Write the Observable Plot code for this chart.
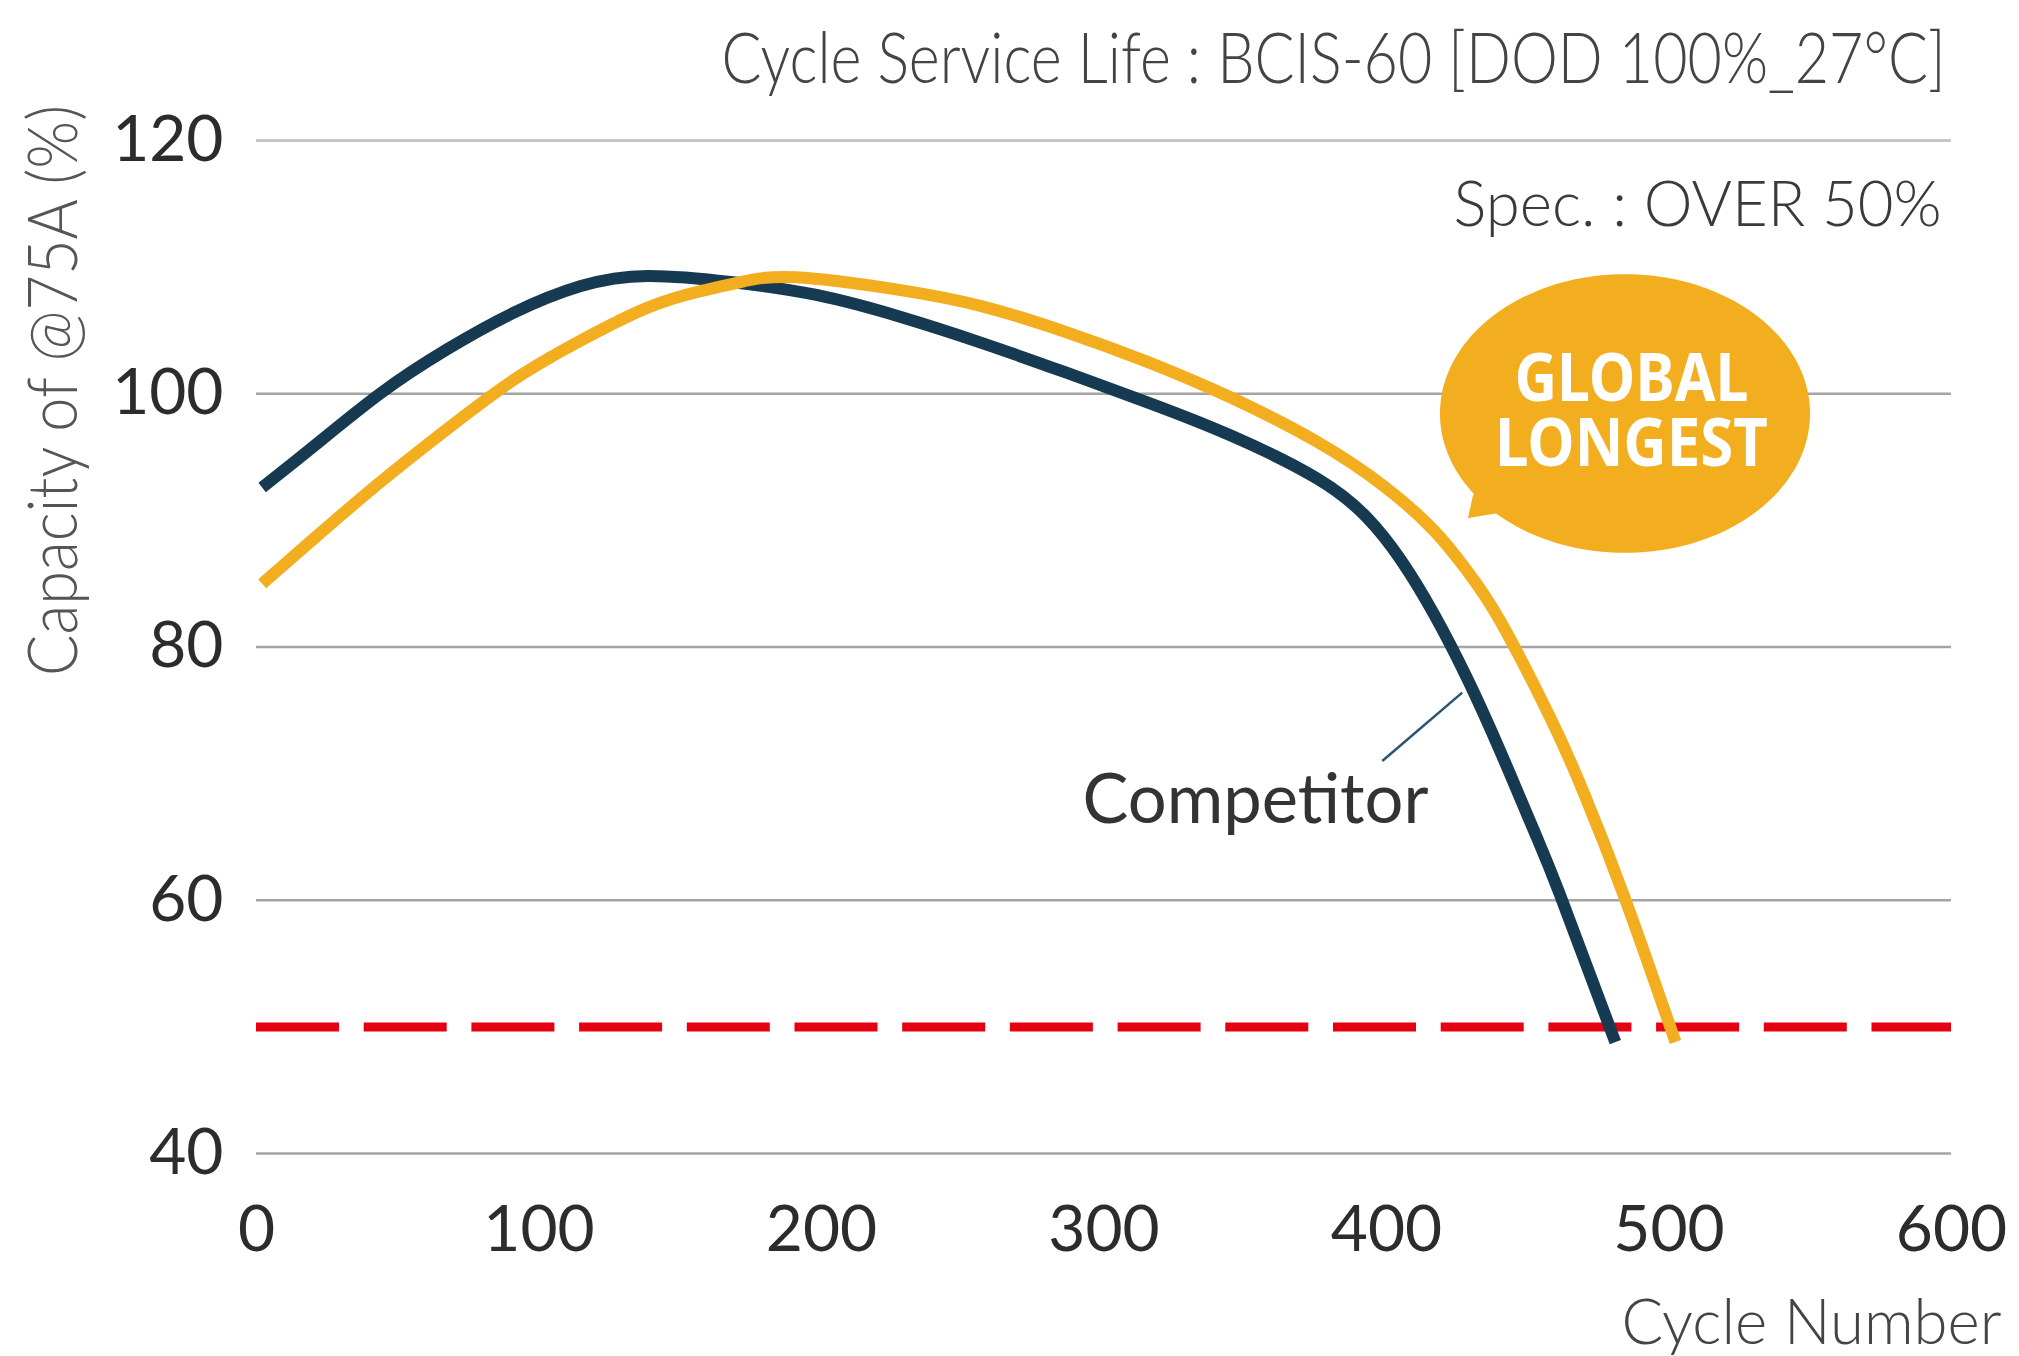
<!DOCTYPE html>
<html>
<head>
<meta charset="utf-8">
<script src="https://cdn.jsdelivr.net/npm/d3@7"></script>
<script src="https://cdn.jsdelivr.net/npm/@observablehq/plot@0.6"></script>
<style>
  html, body { margin: 0; padding: 0; background: #ffffff; }
  #chart svg { display: block; }
</style>
</head>
<body>
<div id="chart"></div>
<script>
// ---- data ----
const xTicks = [0, 100, 200, 300, 400, 500, 600];
const yTicks = [40, 60, 80, 100, 120];
const specLimit = 50;

const competitorCycles = [2, 20, 43.7, 67.4, 91.1, 114.8, 138.5, 168.8, 198.2, 227.5, 256.9, 286.2, 315.6, 344.9, 375.5, 393.2, 405, 416.8, 428.6, 440.4, 452.2, 461.3, 481];
const competitorCapacity = [92.6, 95.8, 100.0, 103.5, 106.4, 108.5, 109.3, 108.8, 107.8, 106.1, 104.0, 101.7, 99.3, 96.7, 93.3, 90.2, 86.9, 82.6, 77.5, 71.7, 65.5, 60.5, 48.8];

const ourCycles = [2, 20, 43.7, 67.4, 91.1, 114.8, 138.5, 157.2, 171, 190.8, 227.5, 256.9, 286.2, 315.6, 344.9, 375.5, 399.1, 416.8, 428.6, 440.4, 458, 469.8, 484.3, 502.3];
const ourCapacity = [85.0, 88.5, 93.0, 97.2, 101.1, 104.2, 106.8, 108.1, 108.8, 109.2, 108.2, 106.9, 104.9, 102.5, 99.7, 96.2, 92.7, 89.2, 86.0, 82.0, 74.4, 68.5, 60.2, 48.8];

const titleText = "Cycle Service Life : BCIS-60 [DOD 100%_27°C]";
const specText = "Spec. : OVER 50%";
const yLabelText = "Capacity of @75A (%)";
const xLabelText = "Cycle Number";
const competitorLabel = "Competitor";
const bubbleLines = ["GLOBAL", "LONGEST"];

// annotation anchors (data units)
const competitorLabelPos = {x: 292.4, y: 66.1};
const leader = {x1: 398.5, y1: 71.0, x2: 426.8, y2: 76.4};
const bubble = {cx: 484.6, cy: 98.4, rx: 65.5, ry: 11.0};
const bubbleTail = [
  {x: 429.0, y1: 90.13, y2: 90.13},
  {x: 430.8, y1: 90.2, y2: 91.95},
  {x: 439.3, y1: 90.53, y2: 93.5}
];
const bubbleTextPos = {x: 486.7, y: 103.07};

// ---- build tables ----
const competitor = competitorCycles.map((c, i) => ({cycle: c, cap: competitorCapacity[i]}));
const ours = ourCycles.map((c, i) => ({cycle: c, cap: ourCapacity[i]}));
const ellipse = d3.range(0, 181, 2).map(a => {
  const t = a * Math.PI / 180;
  return {
    x: bubble.cx + bubble.rx * Math.cos(t),
    y1: bubble.cy - bubble.ry * Math.sin(t),
    y2: bubble.cy + bubble.ry * Math.sin(t)
  };
});

const NAVY = "#163a51";
const GOLD = "#f2ae1e";
const RED = "#e60012";

const plot = Plot.plot({
  width: 2019,
  height: 1356,
  marginLeft: 256,
  marginRight: 68,
  marginTop: 140,
  marginBottom: 203,
  style: {fontFamily: "Lato, 'Noto Sans', sans-serif", fontSize: "64px", color: "#2c2c2c", background: "#ffffff"},
  x: {domain: [0, 600], ticks: xTicks, tickSize: 0, tickPadding: 52, label: null, tickFormat: d => String(d)},
  y: {domain: [40, 120], ticks: yTicks, tickSize: 0, tickPadding: 33, label: null},
  marks: [
    Plot.ruleY(yTicks.filter(t => t !== 120), {stroke: "#a4a4a4", strokeWidth: 2.5}),
    Plot.ruleY(yTicks.filter(t => t === 120), {stroke: "#c6c6c6", strokeWidth: 3}),
    Plot.ruleY([specLimit], {stroke: RED, strokeWidth: 9, strokeDasharray: "83,24.7"}),
    // speech bubble
    Plot.areaY(ellipse, {x: "x", y1: "y1", y2: "y2", fill: GOLD, curve: "linear"}),
    Plot.areaY(bubbleTail, {x: "x", y1: "y1", y2: "y2", fill: GOLD, curve: "linear"}),
    Plot.text([bubbleLines.join("\n")], {x: () => bubbleTextPos.x, y: () => bubbleTextPos.y, text: d => d, fill: "white", fontSize: 66, fontWeight: 700, fontFamily: "'Noto Sans', 'Open Sans', sans-serif", textAnchor: "middle", lineAnchor: "top", lineHeight: 0.985}),
    // curves
    Plot.line(competitor, {x: "cycle", y: "cap", stroke: NAVY, strokeWidth: 12, curve: "natural", strokeLinecap: "butt"}),
    Plot.line(ours, {x: "cycle", y: "cap", stroke: GOLD, strokeWidth: 12, curve: "natural", strokeLinecap: "butt"}),
    // competitor label + leader
    Plot.link([leader], {x1: "x1", y1: "y1", x2: "x2", y2: "y2", stroke: "#2a5470", strokeWidth: 2.5}),
    Plot.text([competitorLabel], {x: () => competitorLabelPos.x, y: () => competitorLabelPos.y, text: d => d, fontSize: 70, fill: "#333333", textAnchor: "start", lineAnchor: "bottom"}),
    // titles
    Plot.text([titleText], {frameAnchor: "top-right", text: d => d, dx: -6, dy: -58, fontSize: 70, fontWeight: 300, fill: "#444444", textAnchor: "end", lineAnchor: "bottom"}),
    Plot.text([specText], {frameAnchor: "top-right", text: d => d, dx: -10, dy: 85, fontSize: 64, fontWeight: 300, fill: "#3a3a3a", textAnchor: "end", lineAnchor: "bottom"}),
    Plot.text([yLabelText], {frameAnchor: "top-left", text: d => d, dx: -180, dy: 250, rotate: -90, fontSize: 68, fontWeight: 300, fill: "#555555", textAnchor: "middle", lineAnchor: "bottom"}),
    Plot.text([xLabelText], {frameAnchor: "bottom-right", text: d => d, dx: 50, dy: 190, fontSize: 64, fontWeight: 300, fill: "#444444", textAnchor: "end", lineAnchor: "bottom"})
  ]
});

// compress annotation texts to the widths measured on the reference
const fits = new Map([
  [titleText, 1224],
  [specText, 488],
  [yLabelText, 571],
  [xLabelText, 380],
  [competitorLabel, 346],
  [bubbleLines[0], 234],
  [bubbleLines[1], 273]
]);
plot.querySelectorAll("text, tspan").forEach(t => {
  if (t.tagName === "text" && t.querySelector("tspan")) return;
  const len = fits.get(t.textContent);
  if (len) {
    t.setAttribute("textLength", len);
    t.setAttribute("lengthAdjust", "spacingAndGlyphs");
  }
});

document.getElementById("chart").appendChild(plot);
</script>
</body>
</html>
